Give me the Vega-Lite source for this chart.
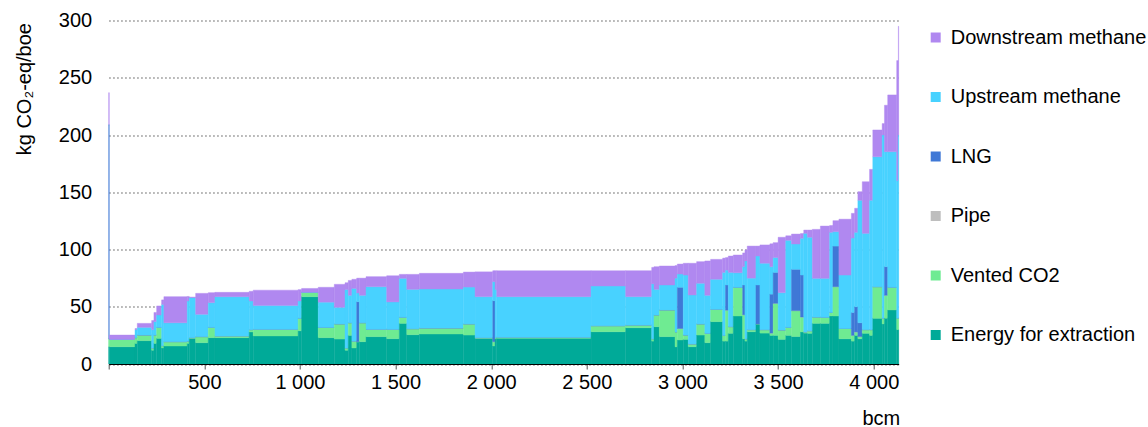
{
  "$schema": "https://vega.github.io/schema/vega-lite/v6.json",
  "width": 790,
  "height": 343.5,
  "autosize": "none",
  "padding": {"left": 108.7, "top": 20.5, "right": 249.3, "bottom": 63},
  "config": {"font": "Liberation Sans", "view": {"stroke": null}},
  "datasets": {
    "comp": [
      {"c": "e", "o": 1, "name": "Energy for extraction"},
      {"c": "v", "o": 2, "name": "Vented CO2"},
      {"c": "p", "o": 3, "name": "Pipe"},
      {"c": "l", "o": 4, "name": "LNG"},
      {"c": "u", "o": 5, "name": "Upstream methane"},
      {"c": "d", "o": 6, "name": "Downstream methane"}
    ]
  },
  "data": {"values": [
{"i":1,"w":3,"e":15,"v":7,"p":0,"l":187,"u":0,"d":28},
{"i":2,"w":134.5,"e":15.1,"v":6.4,"p":0,"l":0,"u":0,"d":3.8},
{"i":3,"w":12,"e":18,"v":5,"p":0,"l":0,"u":7,"d":1},
{"i":4,"w":75,"e":20.4,"v":4.9,"p":0,"l":0,"u":6.7,"d":3.5},
{"i":5,"w":12,"e":12,"v":2,"p":0,"l":0,"u":16,"d":8},
{"i":6,"w":14,"e":18,"v":7.3,"p":0,"l":0,"u":11.7,"d":8},
{"i":7,"w":26,"e":22.4,"v":9.6,"p":0,"l":0,"u":10.8,"d":7.9},
{"i":8,"w":12,"e":14,"v":2,"p":0,"l":0,"u":36,"d":4},
{"i":9,"w":122,"e":15.7,"v":3.8,"p":0,"l":0,"u":16.5,"d":22.8},
{"i":10,"w":10.5,"e":18,"v":2,"p":0,"l":0,"u":35,"d":4},
{"i":11,"w":33.5,"e":22.4,"v":0.6,"p":0,"l":0,"u":35,"d":0.5},
{"i":12,"w":66,"e":18.6,"v":5.3,"p":0,"l":0,"u":19.5,"d":18.3},
{"i":13,"w":35,"e":23,"v":9,"p":0,"l":0,"u":21.6,"d":8.7},
{"i":14,"w":179,"e":23,"v":1.5,"p":0,"l":0,"u":34.3,"d":3.8},
{"i":15,"w":21,"e":28,"v":2,"p":0,"l":0,"u":25,"d":8.5},
{"i":16,"w":235,"e":24.5,"v":5.8,"p":0,"l":0,"u":20.7,"d":13.5},
{"i":17,"w":18,"e":29,"v":11,"p":0,"l":0,"u":15,"d":10},
{"i":18,"w":87,"e":58.8,"v":3.8,"p":0,"l":0,"u":0,"d":3.4},
{"i":19,"w":84,"e":23,"v":9,"p":0,"l":0,"u":22,"d":13},
{"i":20,"w":56,"e":21.8,"v":13.2,"p":0,"l":0,"u":14.5,"d":20.1},
{"i":21,"w":17,"e":12,"v":2,"p":0,"l":0,"u":51,"d":6},
{"i":22,"w":19,"e":25,"v":11,"p":0,"l":0,"u":24,"d":13},
{"i":23,"w":25,"e":14,"v":6,"p":0,"l":0,"u":46,"d":8},
{"i":24,"w":14,"e":19.5,"v":0,"p":0,"l":34.9,"u":7.6,"d":13},
{"i":25,"w":35,"e":19.5,"v":16.5,"p":0,"l":0,"u":24,"d":15},
{"i":26,"w":108,"e":23.9,"v":6.4,"p":0,"l":0,"u":37.2,"d":8.8},
{"i":27,"w":66,"e":22.1,"v":8.2,"p":0,"l":0,"u":23.9,"d":22.9},
{"i":28,"w":39,"e":35.5,"v":5.3,"p":0,"l":0,"u":34,"d":3.5},
{"i":29,"w":66,"e":25.6,"v":5.2,"p":0,"l":0,"u":34.4,"d":13.1},
{"i":30,"w":230,"e":26.2,"v":5.2,"p":0,"l":0,"u":34.1,"d":13.7},
{"i":31,"w":61,"e":25.3,"v":9.7,"p":0,"l":0,"u":32.2,"d":13.1},
{"i":32,"w":92.5,"e":22.4,"v":0.6,"p":0,"l":0,"u":35.8,"d":21.7},
{"i":33,"w":12,"e":15.7,"v":3.8,"p":0,"l":35.8,"u":16.6,"d":9.6},
{"i":34,"w":9,"e":22,"v":1,"p":0,"l":0,"u":42,"d":16.5},
{"i":35,"w":493,"e":22.4,"v":1,"p":0,"l":0,"u":35.4,"d":22.7},
{"i":36,"w":181,"e":28.2,"v":5.2,"p":0,"l":0,"u":34.7,"d":13.4},
{"i":37,"w":136,"e":31.7,"v":2.3,"p":0,"l":0,"u":24.8,"d":22.7},
{"i":38,"w":12,"e":20,"v":2,"p":0,"l":0,"u":48,"d":14.4},
{"i":39,"w":28,"e":32.6,"v":10.2,"p":0,"l":0,"u":22.4,"d":19.8},
{"i":40,"w":82,"e":23.9,"v":23.3,"p":0,"l":0,"u":21.8,"d":16.6},
{"i":41,"w":12,"e":15,"v":13,"p":0,"l":0,"u":47,"d":11},
{"i":42,"w":31,"e":21,"v":10,"p":0,"l":36,"u":11.6,"d":8.7},
{"i":43,"w":26,"e":21.5,"v":3.8,"p":0,"l":0,"u":52.4,"d":10.3},
{"i":44,"w":44,"e":15.1,"v":2.4,"p":0,"l":0,"u":42.8,"d":27.7},
{"i":45,"w":43,"e":25.3,"v":9.7,"p":0,"l":0,"u":35.5,"d":18.9},
{"i":46,"w":30,"e":18.6,"v":8.2,"p":0,"l":0,"u":33.2,"d":30},
{"i":47,"w":63,"e":37,"v":10.8,"p":0,"l":0,"u":26.2,"d":17.4},
{"i":48,"w":15,"e":20,"v":5,"p":0,"l":0,"u":55,"d":12.5},
{"i":49,"w":14.5,"e":20,"v":27,"p":0,"l":22,"u":13,"d":11},
{"i":50,"w":26,"e":26.8,"v":5.8,"p":0,"l":0,"u":47.4,"d":14.3},
{"i":51,"w":49,"e":41.9,"v":25.1,"p":0,"l":0,"u":12.7,"d":15.5},
{"i":52,"w":12,"e":22,"v":21,"p":0,"l":26,"u":16,"d":12},
{"i":53,"w":12,"e":20,"v":2,"p":0,"l":0,"u":68,"d":9.6},
{"i":54,"w":45.5,"e":28.2,"v":1.8,"p":0,"l":0,"u":45,"d":28},
{"i":55,"w":21,"e":35,"v":0,"p":0,"l":34,"u":25.3,"d":8.7},
{"i":56,"w":52,"e":27,"v":3,"p":0,"l":0,"u":58,"d":16},
{"i":57,"w":17,"e":25,"v":2,"p":0,"l":34,"u":24,"d":20},
{"i":58,"w":26,"e":25,"v":28,"p":0,"l":27,"u":13,"d":13},
{"i":59,"w":40,"e":21.5,"v":8.2,"p":0,"l":0,"u":32.6,"d":48.4},
{"i":60,"w":30,"e":25,"v":7,"p":0,"l":0,"u":76,"d":4},
{"i":61,"w":47,"e":24,"v":22.6,"p":0,"l":36.1,"u":22.1,"d":8.7},
{"i":62,"w":17,"e":28,"v":13,"p":0,"l":36.7,"u":32.1,"d":4.2},
{"i":63,"w":19,"e":27,"v":1,"p":0,"l":0,"u":86.1,"d":2.9},
{"i":64,"w":26,"e":26.8,"v":2.2,"p":0,"l":0,"u":81.7,"d":6.3},
{"i":65,"w":42,"e":35.5,"v":5.5,"p":0,"l":0,"u":33.8,"d":42.8},
{"i":66,"w":48.5,"e":35.5,"v":5.3,"p":0,"l":0,"u":34,"d":45.7},
{"i":67,"w":17,"e":42,"v":3,"p":0,"l":0,"u":70,"d":6},
{"i":68,"w":31.5,"e":41.9,"v":25.6,"p":0,"l":35.5,"u":12.6,"d":9.6},
{"i":69,"w":65,"e":22,"v":9,"p":0,"l":0,"u":46.7,"d":48.8},
{"i":70,"w":17,"e":20,"v":5,"p":0,"l":20,"u":65,"d":21.6},
{"i":71,"w":17,"e":25,"v":3,"p":0,"l":22,"u":65,"d":21},
{"i":72,"w":23,"e":22,"v":2,"p":0,"l":12,"u":107,"d":7.5},
{"i":73,"w":38,"e":26.8,"v":3.2,"p":0,"l":0,"u":84.1,"d":45.1},
{"i":74,"w":17,"e":25,"v":5,"p":0,"l":0,"u":113,"d":27},
{"i":75,"w":49,"e":39.9,"v":27.6,"p":0,"l":0,"u":113.5,"d":23.4},
{"i":76,"w":12,"e":35,"v":5,"p":0,"l":0,"u":160,"d":10},
{"i":77,"w":17,"e":40,"v":20,"p":0,"l":25,"u":100.4,"d":40.6},
{"i":78,"w":47,"e":47.2,"v":19.8,"p":0,"l":0,"u":118.4,"d":49.6},
{"i":79,"w":8.5,"e":30,"v":10,"p":0,"l":0,"u":120,"d":105},
{"i":80,"w":2,"e":30,"v":10,"p":0,"l":0,"u":160,"d":95}
  ]},
  "transform": [
    {"stack": "w", "groupby": [], "sort": [{"field": "i"}], "as": ["x0", "x1"]},
    {"fold": ["e", "v", "p", "l", "u", "d"], "as": ["c", "val"]},
    {"lookup": "c", "from": {"data": {"name": "comp"}, "key": "c", "fields": ["o", "name"]}},
    {"stack": "val", "groupby": ["i"], "sort": [{"field": "o"}], "as": ["y0", "y1"]}
  ],
  "mark": {"type": "rect", "strokeWidth": 0.4},
  "encoding": {
    "x": {
      "field": "x0", "type": "quantitative",
      "scale": {"domain": [0, 4130.5], "nice": false, "zero": false},
      "axis": {
        "title": "bcm", "values": [0, 500, 1000, 1500, 2000, 2500, 3000, 3500, 4000],
        "labelExpr": "datum.value == 0 ? '' : replace(format(datum.value, ','), ',', ' ')",
        "grid": false, "zindex": 1, "domainColor": "#000000", "domainWidth": 1,
        "tickColor": "#555555", "tickSize": 5, "labelFontSize": 20, "labelColor": "#000000",
        "labelPadding": 3, "labelFlush": false, "labelOverlap": false,
        "titleFontSize": 20, "titleFontWeight": "normal", "titleColor": "#000000",
        "titleX": 791, "titleY": 60, "titleAlign": "right", "titleBaseline": "alphabetic"
      }
    },
    "x2": {"field": "x1"},
    "y": {
      "field": "y0", "type": "quantitative",
      "scale": {"domain": [0, 300], "nice": false},
      "axis": {
        "title": "kg CO₂-eq/boe", "values": [0, 50, 100, 150, 200, 250, 300],
        "domain": false, "ticks": false, "grid": true, "gridColor": "#8c8c8c",
        "gridDash": [1.5, 2.5], "gridWidth": 1.3, "labelFontSize": 20, "labelColor": "#000000",
        "labelPadding": 17, "titleFontSize": 20, "titleFontWeight": "normal", "titleColor": "#000000",
        "titleX": -84, "titleY": 2, "titleAlign": "right", "titleBaseline": "middle", "titleAngle": 270
      }
    },
    "y2": {"field": "y1"},
    "color": {
      "field": "name", "type": "nominal",
      "scale": {
        "domain": ["Downstream methane", "Upstream methane", "LNG", "Pipe", "Vented CO2", "Energy for extraction"],
        "range": ["#b088f0", "#48d2ff", "#3f78d6", "#bebebe", "#6feb92", "#00aa98"]
      },
      "legend": {
        "orient": "none", "legendX": 817, "legendY": 7, "title": null,
        "symbolType": "square", "symbolSize": 100, "symbolStrokeWidth": 0, "symbolOpacity": 1,
        "labelFontSize": 20, "labelColor": "#000000", "labelOffset": 5, "labelLimit": 0,
        "rowPadding": 39.5, "padding": 0
      }
    },
    "stroke": {
      "field": "name", "type": "nominal", "legend": null,
      "scale": {
        "domain": ["Downstream methane", "Upstream methane", "LNG", "Pipe", "Vented CO2", "Energy for extraction"],
        "range": ["#b088f0", "#48d2ff", "#3f78d6", "#bebebe", "#6feb92", "#00aa98"]
      }
    }
  }
}
